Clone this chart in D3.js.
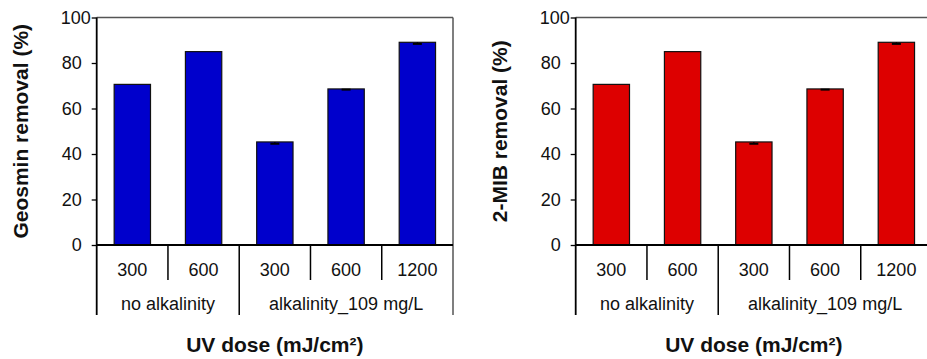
<!DOCTYPE html>
<html>
<head>
<meta charset="utf-8">
<script src="https://cdn.jsdelivr.net/npm/d3@7/dist/d3.min.js"></script>
<style>
  html, body { margin: 0; padding: 0; background: #fff; }
  svg { display: block; font-family: "Liberation Sans", Arial, sans-serif; }
</style>
</head>
<body>
<svg id="chart" width="927" height="359"></svg>
<script>
// UV doses (mJ/cm²) within each water condition
const doses = ["300", "600", "300", "600", "1200"];
// water condition groups and how many doses each spans
const groups = ["no alkalinity", "alkalinity_109 mg/L"];
const groupSizes = [2, 3];
// removal (%) per dose, same order as doses
const geosminRemoval = [70.6, 85.0, 45.3, 68.6, 89.1];
const geosminError = [0, 0, 0.8, 0.3, 0.7];
const mibRemoval = [70.6, 85.0, 45.3, 68.6, 89.1];
const mibError = [0, 0, 0.8, 0.3, 0.7];
const yTicks = [0, 20, 40, 60, 80, 100];

const svg = d3.select("#chart");

const panels = [
  { left: 96.7, title: "Geosmin removal (%)", values: geosminRemoval, errors: geosminError, color: "#0000cc" },
  { left: 575.7, title: "2-MIB removal (%)", values: mibRemoval, errors: mibError, color: "#dd0000" }
];

const plotW = 356.3, plotTop = 17.5, base = 245;
const doseRowBottom = 280, groupRowBottom = 315;
const labelSize = 18, titleSize = 21;

panels.forEach(p => {
  const g = svg.append("g");
  const x = d3.scaleBand().domain(d3.range(doses.length)).range([p.left, p.left + plotW]).paddingInner(0.49).paddingOuter(0.245);
  const y = d3.scaleLinear().domain([0, 100]).range([base, plotTop]);
  const edge = i => p.left + i * (plotW / doses.length);

  // frame on top and right
  g.append("line").attr("x1", p.left).attr("x2", p.left + plotW).attr("y1", plotTop).attr("y2", plotTop)
    .attr("stroke", "#555").attr("stroke-width", 1.5);
  g.append("line").attr("x1", p.left + plotW).attr("x2", p.left + plotW).attr("y1", plotTop).attr("y2", groupRowBottom)
    .attr("stroke", "#555").attr("stroke-width", 1.5);

  // bars
  g.selectAll("rect.bar").data(p.values).join("rect")
    .attr("class", "bar")
    .attr("x", (d, i) => x(i))
    .attr("width", x.bandwidth())
    .attr("y", d => y(d))
    .attr("height", d => y(0) - y(d))
    .attr("fill", p.color)
    .attr("stroke", "#111")
    .attr("stroke-width", 1.2);

  // error bars (lower side)
  p.values.forEach((v, i) => {
    const e = p.errors[i];
    if (!e) return;
    const cx = x(i) + x.bandwidth() / 2;
    g.append("line").attr("x1", cx).attr("x2", cx).attr("y1", y(v)).attr("y2", y(v - e))
      .attr("stroke", "#000").attr("stroke-width", 1.2);
    g.append("line").attr("x1", cx - 4.5).attr("x2", cx + 4.5).attr("y1", y(v - e)).attr("y2", y(v - e))
      .attr("stroke", "#000").attr("stroke-width", 2);
  });

  // y axis
  const yAxis = g.append("g").attr("transform", `translate(${p.left},0)`)
    .call(d3.axisLeft(y).tickValues(yTicks).tickSize(5).tickSizeOuter(0).tickPadding(2));
  yAxis.select(".domain").remove();
  yAxis.selectAll(".tick line").attr("stroke", "#000").attr("stroke-width", 1.3);
  yAxis.selectAll(".tick text")
    .attr("font-size", labelSize).attr("fill", "#111")
    .attr("font-family", "Liberation Sans, Arial, sans-serif")
    .attr("x", d => String(d).length > 2 ? -6 : -15);
  g.append("line").attr("x1", p.left).attr("x2", p.left).attr("y1", plotTop).attr("y2", groupRowBottom)
    .attr("stroke", "#000").attr("stroke-width", 1.8);

  // baseline
  g.append("line").attr("x1", p.left).attr("x2", p.left + plotW).attr("y1", base).attr("y2", base)
    .attr("stroke", "#000").attr("stroke-width", 2);

  // category rows: dose dividers and labels
  const groupStarts = [0];
  groupSizes.forEach((s, k) => groupStarts.push(groupStarts[k] + s));
  for (let i = 1; i < doses.length; i++) {
    const isGroupEdge = groupStarts.includes(i);
    g.append("line").attr("x1", edge(i)).attr("x2", edge(i)).attr("y1", base).attr("y2", isGroupEdge ? groupRowBottom : doseRowBottom)
      .attr("stroke", "#000").attr("stroke-width", 1.5);
  }
  g.selectAll("text.dose").data(doses).join("text")
    .attr("class", "dose")
    .attr("x", (d, i) => x(i) + x.bandwidth() / 2)
    .attr("y", 276.3)
    .attr("text-anchor", "middle").attr("font-size", labelSize).attr("fill", "#111")
    .text(d => d);
  g.selectAll("text.group").data(groups).join("text")
    .attr("class", "group")
    .attr("x", (d, k) => (edge(groupStarts[k]) + edge(groupStarts[k + 1])) / 2)
    .attr("y", 310)
    .attr("text-anchor", "middle").attr("font-size", labelSize).attr("fill", "#111")
    .text(d => d);

  // axis titles
  g.append("text")
    .attr("transform", `translate(${p.left - 76},${(plotTop + base) / 2}) rotate(-90)`)
    .attr("text-anchor", "middle").attr("dominant-baseline", "central")
    .attr("font-size", titleSize).attr("font-weight", "bold").attr("fill", "#111")
    .text(p.title);
  g.append("text")
    .attr("x", p.left + plotW / 2).attr("y", 352)
    .attr("text-anchor", "middle").attr("font-size", titleSize).attr("font-weight", "bold").attr("fill", "#111")
    .text("UV dose (mJ/cm²)");
});
</script>
</body>
</html>
